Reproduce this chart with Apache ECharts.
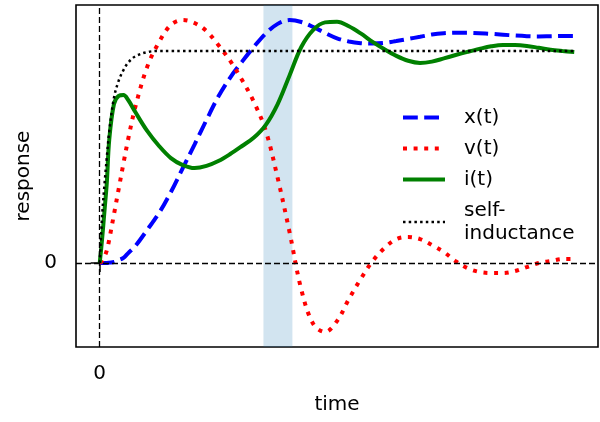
<!DOCTYPE html>
<html>
<head>
<meta charset="utf-8">
<script src="https://cdn.jsdelivr.net/npm/echarts@6/dist/echarts.min.js"></script>
<style>
  html, body { margin: 0; padding: 0; background: #fff; }
  #chart { width: 600px; height: 422px; }
</style>
</head>
<body>
<div id="chart"></div>
<script>
// values
const time = [0, 0.05, 0.1, 0.15, 0.2, 0.3, 0.4, 0.5, 0.6, 0.75,
  1, 1.25, 1.5, 1.75, 2, 2.25, 2.5, 2.75, 3, 3.25, 3.5, 3.75, 4, 4.25, 4.5, 4.75,
  5, 5.25, 5.5, 5.75, 6, 6.25, 6.5, 6.75, 7, 7.25, 7.5, 7.75, 8, 8.25, 8.5, 8.75,
  9, 9.25, 9.5, 9.75, 10]

const position = [0, 0, 0, 0, 0.002, 0.005, 0.014, 0.024, 0.047, 0.08,
  0.156, 0.236, 0.335, 0.448, 0.56, 0.675, 0.785, 0.875, 0.95, 1.02, 1.083, 1.128, 1.146, 1.137, 1.113, 1.085,
  1.06, 1.045, 1.037, 1.035, 1.038, 1.047, 1.057, 1.067, 1.078, 1.084, 1.086, 1.086, 1.084, 1.081, 1.077, 1.073,
  1.07, 1.069, 1.07, 1.071, 1.071]

const voltage = [0, 0.01, 0.03, 0.06, 0.11, 0.23, 0.35, 0.47, 0.585, 0.736,
  0.925, 1.042, 1.123, 1.146, 1.132, 1.094, 1.028, 0.953, 0.863, 0.759, 0.623, 0.401, 0.146, -0.127, -0.288, -0.325,
  -0.274, -0.17, -0.075, 0.009, 0.071, 0.113, 0.123, 0.113, 0.085, 0.052, 0.009, -0.024, -0.042, -0.047, -0.047, -0.038,
  -0.019, 0, 0.009, 0.019, 0.019]

const current = [0, 0.113, 0.245, 0.382, 0.58, 0.75, 0.788, 0.792, 0.769, 0.712,
  0.623, 0.552, 0.495, 0.462, 0.448, 0.458, 0.481, 0.514, 0.552, 0.592, 0.652, 0.75, 0.885, 1.02, 1.1, 1.135,
  1.138, 1.117, 1.083, 1.043, 1.008, 0.977, 0.954, 0.944, 0.95, 0.965, 0.981, 0.996, 1.01, 1.022, 1.028, 1.028,
  1.024, 1.015, 1.006, 1, 0.995]

const selfInductance = [0, 0.22, 0.37, 0.5, 0.62, 0.78, 0.86, 0.91, 0.945, 0.975,
  0.995, 1, 1, 1, 1, 1, 1, 1, 1, 1, 1, 1, 1, 1, 1, 1,
  1, 1, 1, 1, 1, 1, 1, 1, 1, 1, 1, 1, 1, 1, 1, 1,
  1, 1, 1, 1, 1]

const band = [3.45, 4.06]
const xTicks = [0]
const yTicks = [0]

const pairs = (ys) => time.map((t, i) => [t, ys[i]])

const chart = echarts.init(document.getElementById('chart'))

const font = 'DejaVu Sans'

const curve = (name, ys, color, width, type) => ({
  name,
  type: 'line',
  data: pairs(ys),
  smooth: 0.35,
  symbol: 'none',
  z: 3,
  lineStyle: { color, width, type, cap: 'butt' },
  itemStyle: { color },
})

chart.setOption({
  animation: false,
  textStyle: { fontFamily: font },
  grid: {
    left: 76, right: 2, top: 5, bottom: 75,
    show: true,
    borderColor: '#000',
    borderWidth: 1.6,
  },
  legend: {
    orient: 'vertical',
    left: 401,
    top: 106,
    padding: 0,
    itemGap: 8,
    itemWidth: 42,
    itemHeight: 14,
    itemStyle: { opacity: 0 },
    lineStyle: { width: 'inherit' },
    textStyle: {
      fontFamily: font,
      fontSize: 20,
      lineHeight: 23,
      color: '#000',
      padding: [0, 0, 0, 14],
    },
    data: ['x(t)', 'v(t)', 'i(t)', 'self-\ninductance'],
  },
  xAxis: {
    type: 'value',
    min: -0.5,
    max: 10.5,
    name: 'time',
    nameLocation: 'middle',
    nameGap: 48,
    nameTextStyle: { fontFamily: font, fontSize: 20, color: '#000' },
    axisLine: { show: false },
    axisTick: { show: true, length: 9, customValues: xTicks, lineStyle: { color: '#000', width: 1.5 } },
    axisLabel: { customValues: xTicks, margin: 17, fontFamily: font, fontSize: 20, color: '#000' },
    splitLine: { show: false },
  },
  yAxis: {
    type: 'value',
    min: -0.396,
    max: 1.217,
    name: 'response',
    nameLocation: 'middle',
    nameGap: 39,
    nameTextStyle: { fontFamily: font, fontSize: 20, color: '#000' },
    axisLine: { show: false },
    axisTick: { show: true, length: 9, customValues: yTicks, lineStyle: { color: '#000', width: 1.5 } },
    axisLabel: { customValues: yTicks, margin: 19, fontFamily: font, fontSize: 20, color: '#000' },
    splitLine: { show: false },
  },
  series: [
    {
      name: 'guides',
      type: 'line',
      data: [[0, 0]],
      symbol: 'none',
      z: 1,
      silent: true,
      lineStyle: { opacity: 0 },
      markArea: {
        silent: true,
        itemStyle: { color: 'rgba(31,119,180,0.2)' },
        data: [[{ xAxis: band[0] }, { xAxis: band[1] }]],
      },
      markLine: {
        silent: true,
        symbol: ['none', 'none'],
        label: { show: false },
        lineStyle: { color: '#000', width: 1.3, type: [6, 3] },
        data: [{ xAxis: 0 }, { yAxis: 0 }],
      },
    },
    curve('x(t)', position, '#0000ff', 4, [14.8, 6.4]),
    curve('v(t)', voltage, '#ff0000', 4, [4, 6.6]),
    curve('i(t)', current, '#008000', 4, 'solid'),
    curve('self-\ninductance', selfInductance, '#000000', 2.5, [2.5, 3.2]),
  ],
})
</script>
</body>
</html>
